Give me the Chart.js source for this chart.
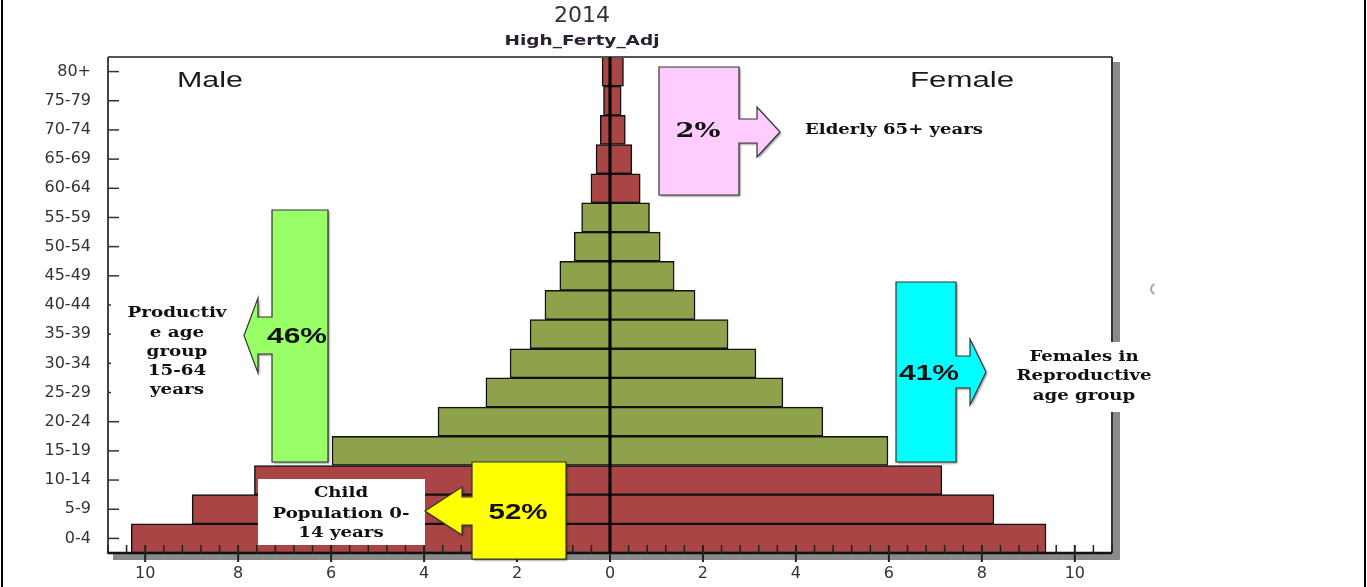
<!DOCTYPE html>
<html>
<head>
<meta charset="utf-8">
<script src="https://cdn.jsdelivr.net/npm/chart.js@4.4.1/dist/chart.umd.min.js"></script>
<style>
  html, body { margin: 0; padding: 0; background: #fff; }
  #wrap { position: relative; width: 1367px; height: 587px; }
  canvas { display: block; }
</style>
</head>
<body>
<div id="wrap"><canvas id="c" width="1367" height="587"></canvas></div>
<script>
// ---------- data ----------
const ageGroups = ['0-4','5-9','10-14','15-19','20-24','25-29','30-34','35-39','40-44',
                   '45-49','50-54','55-59','60-64','65-69','70-74','75-79','80+'];
const maleValues   = [10.30, 8.99, 7.65, 5.98, 3.70, 2.67, 2.15, 1.72, 1.40, 1.08, 0.77, 0.61, 0.41, 0.30, 0.21, 0.14, 0.17];
const femaleValues = [ 9.38, 8.26, 7.14, 5.98, 4.58, 3.72, 3.14, 2.54, 1.83, 1.38, 1.08, 0.85, 0.65, 0.47, 0.33, 0.24, 0.29];
const xTickLabels = [10, 8, 6, 4, 2, 0, 2, 4, 6, 8, 10];
const chartTitle = '2014';
const chartSubtitle = 'High_Ferty_Adj';

// ---------- styles ----------
const RED = '#A94544';
const GREEN = '#8EA24B';
const barColor = (i) => (i >= 3 && i <= 11) ? GREEN : RED;
const colors = ageGroups.map((_, i) => barColor(i));

Chart.defaults.font.family = '"DejaVu Sans", Verdana, sans-serif';

function drawText(ctx, s, cx, cy, font, color, sx) {
  ctx.save();
  ctx.font = font;
  ctx.fillStyle = color;
  ctx.textAlign = 'center';
  ctx.textBaseline = 'middle';
  ctx.translate(cx, cy);
  ctx.scale(sx || 1, 1);
  ctx.fillText(s, 0, 0);
  ctx.restore();
}
function fitScale(ctx, s, font, w) {
  ctx.save(); ctx.font = font; const m = ctx.measureText(s).width; ctx.restore();
  return w / m;
}
function textBlock(ctx, lines, cx, ys, font, color, refIdx, refW) {
  const yl = Array.isArray(ys) ? ys : [ys];
  const sx = fitScale(ctx, lines[refIdx], font, refW);
  lines.forEach((l, i) => drawText(ctx, l, cx, yl[i], font, color, sx));
}
function callout(ctx, b) {
  const {L, R, T, B, dir, s0, s1, hb, tip, h0, h1, fill} = b;
  const ty = (h0 + h1) / 2;
  ctx.save();
  ctx.beginPath();
  if (dir === 'right') {
    ctx.moveTo(L, T); ctx.lineTo(R, T); ctx.lineTo(R, s0); ctx.lineTo(hb, s0); ctx.lineTo(hb, h0);
    ctx.lineTo(tip, ty); ctx.lineTo(hb, h1); ctx.lineTo(hb, s1); ctx.lineTo(R, s1); ctx.lineTo(R, B); ctx.lineTo(L, B);
  } else {
    ctx.moveTo(R, T); ctx.lineTo(L, T); ctx.lineTo(L, s0); ctx.lineTo(hb, s0); ctx.lineTo(hb, h0);
    ctx.lineTo(tip, ty); ctx.lineTo(hb, h1); ctx.lineTo(hb, s1); ctx.lineTo(L, s1); ctx.lineTo(L, B); ctx.lineTo(R, B);
  }
  ctx.closePath();
  ctx.shadowColor = 'rgba(0,0,0,0.45)';
  ctx.shadowBlur = 2; ctx.shadowOffsetX = 1.5; ctx.shadowOffsetY = 1.5;
  ctx.fillStyle = fill;
  ctx.fill();
  ctx.shadowColor = 'transparent';
  ctx.lineWidth = 1.2;
  ctx.strokeStyle = '#333';
  ctx.stroke();
  ctx.restore();
}

const SERIF_B = 'bold 14px "DejaVu Serif", "Liberation Serif", serif';
const SANS_B = 'bold 22px "Liberation Sans", Arial, sans-serif';

const decorPlugin = {
  id: 'decor',
  afterDatasetsDraw(chart) {
    const ctx = chart.ctx;
    const xs = chart.scales.x, ys = chart.scales.y;
    const {left, right, top, bottom} = chart.chartArea;
    ctx.save();
    // frame shadow
    ctx.fillStyle = '#8a8a8a';
    ctx.fillRect(right, top + 5, 8, bottom - top + 2);
    ctx.fillRect(left + 5, bottom, right - left + 3, 7);
    // frame lines
    ctx.lineCap = 'butt';
    ctx.strokeStyle = '#555'; ctx.lineWidth = 2;
    ctx.beginPath(); ctx.moveTo(left, top); ctx.lineTo(right, top); ctx.stroke();
    ctx.strokeStyle = '#333';
    ctx.beginPath(); ctx.moveTo(right, top); ctx.lineTo(right, bottom); ctx.stroke();
    ctx.strokeStyle = '#444';
    ctx.beginPath(); ctx.moveTo(left, top); ctx.lineTo(left, bottom + 1); ctx.stroke();
    ctx.strokeStyle = '#111'; ctx.lineWidth = 2.5;
    ctx.beginPath(); ctx.moveTo(left, bottom); ctx.lineTo(right, bottom); ctx.stroke();
    // x ticks (inside; major ones cross the axis)
    xs.ticks.forEach(t => {
      const px = xs.getPixelForValue(t.value);
      const major = Math.round(t.value * 10) % 20 === 0;
      ctx.strokeStyle = '#222';
      ctx.lineWidth = major ? 2 : 1.5;
      ctx.beginPath();
      ctx.moveTo(px, bottom - 8);
      ctx.lineTo(px, major ? bottom + 9 : bottom);
      ctx.stroke();
    });
    // y ticks (inside)
    ys.ticks.forEach((t, i) => {
      const py = ys.getPixelForTick(i);
      ctx.strokeStyle = '#333'; ctx.lineWidth = 1.5;
      ctx.beginPath(); ctx.moveTo(left, py); ctx.lineTo(left + 11, py); ctx.stroke();
    });
    // centre line at 0
    const x0 = xs.getPixelForValue(0);
    ctx.strokeStyle = '#000'; ctx.lineWidth = 3;
    ctx.beginPath(); ctx.moveTo(x0, top); ctx.lineTo(x0, bottom); ctx.stroke();

    // white label boxes
    ctx.fillStyle = '#fff';
    ctx.fillRect(111, 296, 132, 109);
    ctx.fillRect(1010, 342, 148, 70);
    ctx.fillRect(258, 479, 167, 66);

    // callouts
    callout(ctx, {L: 659, R: 739, T: 67, B: 195, dir: 'right', s0: 119, s1: 143, hb: 757, tip: 780, h0: 107, h1: 157, fill: '#FFCCFF'});
    callout(ctx, {L: 272, R: 328, T: 210, B: 462, dir: 'left', s0: 317, s1: 354, hb: 258, tip: 244, h0: 298, h1: 373, fill: '#99FF66'});
    callout(ctx, {L: 896, R: 956, T: 282, B: 462, dir: 'right', s0: 356, s1: 388, hb: 970, tip: 986, h0: 339, h1: 405, fill: '#00FFFF'});
    callout(ctx, {L: 472, R: 566, T: 462, B: 559, dir: 'left', s0: 497, s1: 525, hb: 462, tip: 425, h0: 487, h1: 535, fill: '#FFFF00'});

    // callout texts
    textBlock(ctx, ['2%'], 698, [132], 'bold 21px "DejaVu Serif", serif', '#111', 0, 45);
    textBlock(ctx, ['Elderly 65+ years'], 894, [130], SERIF_B, '#111', 0, 178);
    textBlock(ctx, ['46%'], 297, [337], SANS_B, '#111', 0, 60);
    textBlock(ctx, ['41%'], 929, [374], SANS_B, '#111', 0, 60);
    textBlock(ctx, ['52%'], 518, [513], SANS_B, '#111', 0, 59);
    textBlock(ctx, ['Productiv', 'e age', 'group', '15-64', 'years'], 177,
              [313, 333, 352, 371, 390], SERIF_B, '#111', 0, 99);
    textBlock(ctx, ['Females in', 'Reproductive', 'age group'], 1084,
              [357, 376, 396], SERIF_B, '#111', 1, 135);
    textBlock(ctx, ['Child', 'Population 0-', '14 years'], 341,
              [493, 514, 533], SERIF_B, '#111', 1, 137);

    // Male / Female
    textBlock(ctx, ['Male'], 210, [81], '22px "Liberation Sans", Arial, sans-serif', '#1a1a1a', 0, 66);
    textBlock(ctx, ['Female'], 962, [81], '22px "Liberation Sans", Arial, sans-serif', '#1a1a1a', 0, 104);

    // title
    drawText(ctx, chartTitle, 582, 17, '21px "DejaVu Sans", sans-serif', '#333', 1.05);
    textBlock(ctx, [chartSubtitle], 582, [41], 'bold 14px "DejaVu Sans", sans-serif', '#2a2030', 0, 155);

    // stray marks & outer border
    ctx.strokeStyle = '#aaa'; ctx.lineWidth = 2;
    ctx.beginPath(); ctx.arc(1156, 289, 5, Math.PI * 0.6, Math.PI * 1.4); ctx.stroke();
    ctx.fillStyle = '#000';
    ctx.fillRect(1, 0, 2, 587);
    ctx.fillRect(1364, 0, 2, 587);
    ctx.restore();
  }
};

new Chart(document.getElementById('c'), {
  type: 'bar',
  data: {
    labels: ageGroups,
    datasets: [
      { label: 'Male', data: maleValues.map(v => -v), backgroundColor: colors,
        borderColor: '#111', borderWidth: 1.5, borderSkipped: false,
        barPercentage: 1, categoryPercentage: 1 },
      { label: 'Female', data: femaleValues, backgroundColor: colors,
        borderColor: '#111', borderWidth: 1.5, borderSkipped: false,
        barPercentage: 1, categoryPercentage: 1 }
    ]
  },
  options: {
    indexAxis: 'y',
    responsive: false,
    animation: false,
    layout: { padding: { top: 57, left: 0, right: 255, bottom: 0 } },
    plugins: { legend: { display: false }, tooltip: { enabled: false }, title: { display: false } },
    scales: {
      x: {
        type: 'linear', stacked: true, min: -10.8, max: 10.8,
        grid: { display: false, drawTicks: false },
        border: { display: false },
        afterFit: (s) => { s.height = 34; },
        ticks: {
          stepSize: 0.4, maxTicksLimit: 200, autoSkip: false, maxRotation: 0, padding: 11,
          color: '#333', font: { size: 16 },
          callback: (v) => {
            const r = Math.round(v * 10);
            if (r % 20 !== 0) return '';
            const idx = r / 20 + 5;
            return String(xTickLabels[idx]);
          }
        }
      },
      y: {
        type: 'category', stacked: true, reverse: true, offset: true,
        grid: { display: false, drawTicks: false },
        border: { display: false },
        afterFit: (s) => { s.width = 108; },
        ticks: { autoSkip: false, padding: 17, color: '#333', font: { size: 16 } }
      }
    }
  },
  plugins: [decorPlugin]
});
</script>
</body>
</html>
